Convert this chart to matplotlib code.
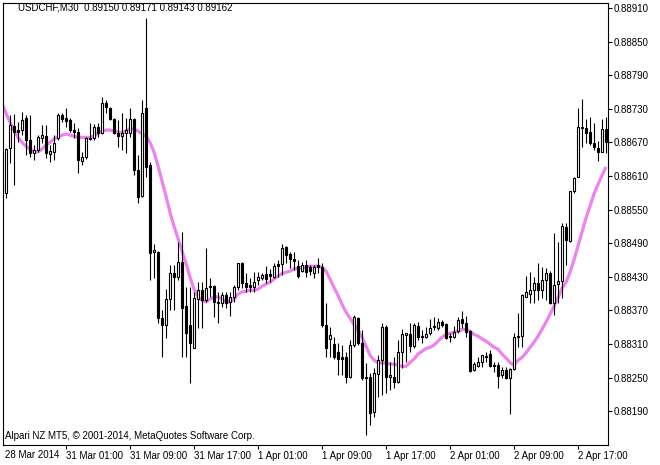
import matplotlib
matplotlib.use("Agg")
import matplotlib.pyplot as plt
import numpy as np

# USDCHF M30 candles, prices in points (1 point = 0.00001)
opens = [
    88597, 88579, 88660, 88699, 88692, 88692, 88713, 88674, 88651, 88656,
    88678, 88681, 88649, 88653, 88678, 88719, 88713, 88710, 88692, 88688,
    88636, 88644, 88676, 88678, 88697, 88686, 88740, 88731, 88711, 88686,
    88681, 88686, 88686, 88711, 88620, 88574, 88731, 88629, 88474, 88474,
    88356, 88344, 88390, 88436, 88429, 88456, 88378, 88344, 88302, 88390,
    88406, 88388, 88413, 88413, 88385, 88383, 88397, 88385, 88394, 88411,
    88454, 88419, 88415, 88411, 88424, 88428, 88435, 88435, 88429, 88452,
    88452, 88483, 88470, 88461, 88449, 88440, 88451, 88447, 88436, 88451,
    88447, 88344, 88319, 88310, 88295, 88286, 88286, 88251, 88308, 88356,
    88311, 88251, 88251, 88188, 88256, 88281, 88340, 88251, 88251, 88242,
    88295, 88326, 88327, 88306, 88342, 88324, 88322, 88329, 88340, 88338,
    88349, 88345, 88324, 88322, 88333, 88354, 88347, 88333, 88263, 88270,
    88278, 88286, 88292, 88272, 88272, 88254, 88263, 88249, 88265, 88322,
    88324, 88394, 88399, 88406, 88419, 88406, 88424, 88436, 88383, 88417,
    88422, 88519, 88494, 88583, 88608, 88695, 88695, 88688, 88669, 88660,
    88653, 88694,
]
highs = [
    88603, 88660, 88719, 88720, 88706, 88724, 88719, 88719, 88665, 88683,
    88701, 88701, 88665, 88683, 88722, 88722, 88731, 88713, 88704, 88695,
    88653, 88679, 88704, 88703, 88704, 88751, 88745, 88733, 88713, 88710,
    88722, 88713, 88731, 88713, 88647, 88745, 88892, 88635, 88488, 88476,
    88370, 88408, 88451, 88451, 88492, 88510, 88411, 88411, 88403, 88420,
    88420, 88481, 88428, 88415, 88403, 88403, 88403, 88403, 88415, 88454,
    88456, 88436, 88428, 88438, 88438, 88436, 88449, 88444, 88454, 88460,
    88488, 88485, 88474, 88474, 88460, 88456, 88460, 88451, 88451, 88463,
    88454, 88383, 88340, 88322, 88311, 88308, 88295, 88317, 88361, 88358,
    88335, 88276, 88258, 88267, 88290, 88347, 88344, 88278, 88286, 88317,
    88336, 88330, 88347, 88347, 88349, 88335, 88340, 88354, 88358, 88356,
    88352, 88347, 88329, 88342, 88358, 88369, 88360, 88335, 88278, 88286,
    88290, 88295, 88299, 88278, 88278, 88269, 88269, 88267, 88329, 88365,
    88399, 88431, 88438, 88429, 88454, 88447, 88445, 88440, 88508, 88492,
    88526, 88526, 88583, 88608, 88731, 88747, 88711, 88715, 88704, 88672,
    88711, 88715,
]
lows = [
    88576, 88570, 88633, 88594, 88670, 88683, 88647, 88644, 88638, 88653,
    88669, 88642, 88635, 88638, 88674, 88706, 88697, 88688, 88678, 88615,
    88629, 88640, 88674, 88674, 88679, 88685, 88722, 88710, 88685, 88662,
    88656, 88651, 88679, 88611, 88561, 88572, 88608, 88424, 88428, 88347,
    88286, 88320, 88370, 88370, 88424, 88286, 88286, 88240, 88302, 88338,
    88338, 88385, 88394, 88358, 88347, 88376, 88374, 88360, 88385, 88406,
    88410, 88403, 88403, 88403, 88415, 88424, 88419, 88420, 88428, 88429,
    88433, 88454, 88445, 88442, 88428, 88438, 88429, 88433, 88428, 88436,
    88340, 88286, 88286, 88284, 88254, 88254, 88240, 88249, 88304, 88308,
    88245, 88147, 88165, 88179, 88215, 88219, 88222, 88227, 88231, 88240,
    88267, 88278, 88295, 88302, 88317, 88311, 88320, 88326, 88335, 88335,
    88340, 88319, 88313, 88320, 88329, 88338, 88322, 88260, 88261, 88269,
    88269, 88278, 88269, 88260, 88231, 88249, 88247, 88185, 88263, 88304,
    88304, 88394, 88383, 88383, 88388, 88392, 88388, 88381, 88361, 88383,
    88392, 88451, 88492, 88579, 88608, 88662, 88669, 88665, 88656, 88636,
    88653, 88651,
]
closes = [
    88579, 88658, 88701, 88688, 88688, 88710, 88674, 88651, 88656, 88679,
    88683, 88651, 88654, 88669, 88719, 88711, 88708, 88692, 88688, 88638,
    88644, 88678, 88678, 88697, 88686, 88740, 88733, 88711, 88686, 88681,
    88686, 88692, 88711, 88620, 88572, 88722, 88626, 88472, 88477, 88356,
    88344, 88390, 88436, 88429, 88456, 88374, 88329, 88311, 88392, 88406,
    88388, 88410, 88411, 88385, 88383, 88397, 88383, 88394, 88411, 88454,
    88419, 88411, 88411, 88420, 88429, 88433, 88426, 88431, 88449, 88449,
    88481, 88469, 88461, 88458, 88431, 88451, 88438, 88440, 88447, 88447,
    88344, 88302, 88326, 88286, 88284, 88284, 88251, 88308, 88358, 88311,
    88249, 88249, 88186, 88258, 88281, 88340, 88251, 88254, 88242, 88295,
    88327, 88329, 88306, 88344, 88322, 88322, 88327, 88338, 88342, 88349,
    88344, 88320, 88322, 88331, 88352, 88347, 88331, 88261, 88274, 88278,
    88290, 88288, 88270, 88270, 88252, 88263, 88249, 88265, 88322, 88324,
    88397, 88403, 88406, 88419, 88406, 88424, 88436, 88383, 88415, 88422,
    88520, 88495, 88583, 88606, 88697, 88697, 88686, 88669, 88662, 88653,
    88694, 88671,
]
# moving average line as drawn on the chart
ma_line = [
    88740, 88722, 88706, 88692, 88679, 88670, 88663, 88658, 88653, 88653,
    88658, 88665, 88670, 88676, 88679, 88683, 88685, 88683, 88681, 88679,
    88679, 88679, 88679, 88681, 88686, 88690, 88692, 88692, 88690, 88688,
    88688, 88690, 88695, 88694, 88690, 88686, 88681, 88670, 88653, 88628,
    88601, 88574, 88545, 88520, 88499, 88476, 88454, 88429, 88408, 88394,
    88388, 88385, 88390, 88394, 88394, 88390, 88385, 88385, 88390, 88399,
    88403, 88404, 88406, 88406, 88408, 88413, 88417, 88420, 88426, 88431,
    88436, 88438, 88440, 88444, 88445, 88447, 88447, 88449, 88449, 88449,
    88447, 88440, 88426, 88411, 88397, 88381, 88367, 88356, 88345, 88335,
    88322, 88306, 88290, 88281, 88277, 88276, 88276, 88274, 88274, 88272,
    88270, 88270, 88277, 88283, 88292, 88297, 88302, 88304, 88308, 88315,
    88322, 88327, 88329, 88331, 88333, 88336, 88336, 88333, 88327, 88324,
    88319, 88315, 88310, 88304, 88301, 88292, 88285, 88277, 88272, 88281,
    88286, 88294, 88304, 88313, 88324, 88336, 88349, 88363, 88377, 88392,
    88410, 88420, 88438, 88460, 88485, 88510, 88535, 88556, 88578, 88595,
    88611, 88626,
]

time_labels = ["31 Mar 01:00", "31 Mar 09:00", "31 Mar 17:00", "1 Apr 01:00",
               "1 Apr 09:00", "1 Apr 17:00", "2 Apr 01:00", "2 Apr 09:00",
               "2 Apr 17:00"]
time_label_bars = [16, 32, 48, 64, 80, 96, 112, 128, 144]
first_label = "28 Mar 2014"
price_ticks = [0.88190, 0.88250, 0.88310, 0.88370, 0.88430, 0.88490,
               0.88550, 0.88610, 0.88670, 0.88730, 0.88790, 0.88850, 0.88910]

header = "USDCHF,M30  0.89150 0.89171 0.89143 0.89162"
footer = "Alpari NZ MT5, \u00a9 2001-2014, MetaQuotes Software Corp."

PT = 1e-5
FONT = "Liberation Sans"
FS = 7


def main():
    o = np.array(opens) * PT
    h = np.array(highs) * PT
    l = np.array(lows) * PT
    c = np.array(closes) * PT
    ma = np.array(ma_line) * PT
    idx = np.arange(len(o))

    W, H = 660, 465
    fig = plt.figure(figsize=(W / 100, H / 100), dpi=100)
    fig.patch.set_facecolor("white")
    ax = fig.add_axes([3 / W, 20 / H, 605 / W, 442 / H])

    # indicator under the candles
    ax.plot(idx, ma, color="violet", lw=2.3, zorder=1, solid_capstyle="butt")

    # wicks
    ax.vlines(idx, l, h, color="black", lw=0.8, zorder=2)
    # bodies
    up = c >= o
    bottom = np.minimum(o, c)
    height = np.abs(c - o)
    ax.bar(idx[up], height[up], bottom=bottom[up], width=0.55,
           color="white", edgecolor="black", lw=0.8, zorder=3)
    ax.bar(idx[~up], height[~up], bottom=bottom[~up], width=0.55,
           color="black", edgecolor="black", lw=0.8, zorder=3)

    ax.set_xlim(0.25, 151.5)
    ax.set_ylim(0.881296, 0.889189)

    for s in ax.spines.values():
        s.set_linewidth(0.8)
        s.set_color("black")

    ax.yaxis.tick_right()
    ax.set_yticks(price_ticks)
    ax.set_yticklabels(["%.5f" % p for p in price_ticks], fontsize=FS,
                       family=FONT)
    ax.tick_params(axis="y", direction="out", length=3, width=0.8, pad=1)

    ax.set_xticks(time_label_bars)
    ax.set_xticklabels(time_labels, fontsize=FS, family=FONT, ha="left")
    ax.tick_params(axis="x", direction="out", length=3, width=0.8, pad=1.5)
    ax.text(0.003, -4.5 / 442, first_label, transform=ax.transAxes,
            fontsize=FS, family=FONT, ha="left", va="top")

    fig.text(18 / W, 1 - 8 / H, header, fontsize=FS, family=FONT,
             ha="left", va="center")
    fig.text(5 / W, 1 - 436 / H, footer, fontsize=FS, family=FONT,
             ha="left", va="center")

    fig.savefig("out.png", dpi=100)


if __name__ == "__main__":
    main()
